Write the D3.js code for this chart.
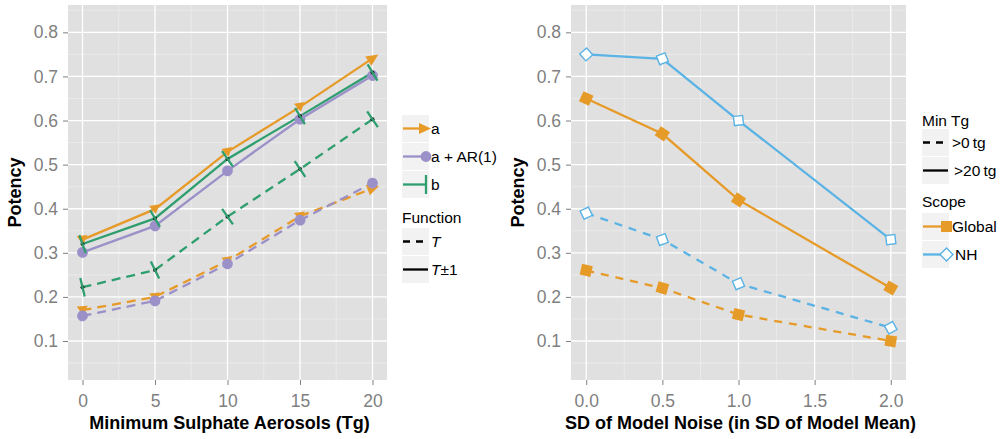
<!DOCTYPE html>
<html>
<head>
<meta charset="utf-8">
<script src="https://cdn.jsdelivr.net/npm/d3@7"></script>
<style>
body { margin: 0; background: #fff; }
text { font-family: "Liberation Sans", Arial, Helvetica, sans-serif; }
</style>
</head>
<body>
<svg id="chart" width="1008" height="439"></svg>
<script>
// ---- data ----
const tgLevels = [0, 5, 10, 15, 20];
const aT      = [0.170, 0.200, 0.282, 0.383, 0.446];
const aTpm    = [0.330, 0.399, 0.529, 0.631, 0.741];
const arT     = [0.157, 0.191, 0.275, 0.374, 0.458];
const arTpm   = [0.301, 0.361, 0.486, 0.603, 0.702];
const bT      = [0.222, 0.261, 0.382, 0.490, 0.603];
const bTpm    = [0.320, 0.378, 0.513, 0.610, 0.709];

const noiseSD    = [0, 0.5, 1, 2];
const globalGt0  = [0.26, 0.22, 0.16, 0.10];
const globalGt20 = [0.65, 0.57, 0.42, 0.22];
const nhGt0      = [0.39, 0.33, 0.23, 0.13];
const nhGt20     = [0.75, 0.74, 0.60, 0.33];

const yTicks = [0.1, 0.2, 0.3, 0.4, 0.5, 0.6, 0.7, 0.8];
const yMinor = [0.05, 0.15, 0.25, 0.35, 0.45, 0.55, 0.65, 0.75, 0.85];
const tgTicks = [0, 5, 10, 15, 20];
const tgMinor = [2.5, 7.5, 12.5, 17.5];
const noiseTicks = [0, 0.5, 1, 1.5, 2];
const noiseMinor = [0.25, 0.75, 1.25, 1.75];

const seriesNames = ['a', 'a + AR(1)', 'b'];
const minTgNames = ['>0\u2009tg', '>20\u2009tg'];
const scopeNames = ['Global', 'NH'];

// ---- look ----
const orange = '#e69a28', purple = '#9b90c8', green = '#2e9e6e', blue = '#5ab3e4';
const lineW = 2.3;
const panelTop = 5, panelBottom = 380;
const tickGrey = '#7f7f7f';

const svg = d3.select('#chart');

function makePanel(x0, x1, xDomain, xTicks, xMinor, xFmt, xTitle) {
  const x = d3.scaleLinear().domain(xDomain).range([x0, x1]);
  const y = d3.scaleLinear().domain([0.0116, 0.862]).range([panelBottom, panelTop]);
  const g = svg.append('g');

  g.append('rect')
    .attr('x', x0).attr('y', panelTop)
    .attr('width', x1 - x0).attr('height', panelBottom - panelTop)
    .attr('fill', '#e0e0e0');

  // minor grid
  g.selectAll('.minx').data(xMinor).enter().append('line')
    .attr('x1', d => x(d)).attr('x2', d => x(d))
    .attr('y1', panelTop).attr('y2', panelBottom)
    .attr('stroke', '#ececec').attr('stroke-width', 0.8);
  g.selectAll('.miny').data(yMinor).enter().append('line')
    .attr('y1', d => y(d)).attr('y2', d => y(d))
    .attr('x1', x0).attr('x2', x1)
    .attr('stroke', '#ececec').attr('stroke-width', 0.8);
  // major grid
  g.selectAll('.majx').data(xTicks).enter().append('line')
    .attr('x1', d => x(d)).attr('x2', d => x(d))
    .attr('y1', panelTop).attr('y2', panelBottom)
    .attr('stroke', '#fff').attr('stroke-width', 1.3);
  g.selectAll('.majy').data(yTicks).enter().append('line')
    .attr('y1', d => y(d)).attr('y2', d => y(d))
    .attr('x1', x0).attr('x2', x1)
    .attr('stroke', '#fff').attr('stroke-width', 1.3);

  // axes
  let yAxis = g.append('g')
    .attr('transform', 'translate(' + x0 + ',0)')
    .call(d3.axisLeft(y).tickValues(yTicks).tickSize(5).tickPadding(5).tickFormat(d3.format('.1f')));
  let xAxis = g.append('g')
    .attr('transform', 'translate(0,' + panelBottom + ')')
    .call(d3.axisBottom(x).tickValues(xTicks).tickSize(5).tickPadding(10).tickFormat(xFmt));
  [yAxis, xAxis].forEach(a => {
    a.select('.domain').remove();
    a.selectAll('line').attr('stroke', tickGrey);
    a.selectAll('text').attr('fill', tickGrey).style('font-size', '17.5px')
      .style('font-family', '"Liberation Sans", Arial, sans-serif');
  });

  g.append('text')
    .attr('x', (x0 + x1) / 2 + 2).attr('y', 428.5)
    .attr('text-anchor', 'middle')
    .style('font-size', '18px').style('font-weight', 'bold')
    .text(xTitle);
  g.append('text')
    .attr('transform', 'translate(' + (x0 - 47) + ',' + ((panelTop + panelBottom) / 2) + ') rotate(-90)')
    .attr('text-anchor', 'middle')
    .style('font-size', '18px').style('font-weight', 'bold')
    .text('Potency');
  return { x, y, g };
}

function drawMarker(g, px, py, ang, kind, color, isLast) {
  let m = g.append('g').attr('transform', 'translate(' + px + ',' + py + ') rotate(' + ang + ')');
  if (kind === 'tri') {
    if (isLast) m.append('path').attr('d', 'M7,0L-5,-5.5L-5,5.5Z').attr('fill', color);
    else m.append('path').attr('d', 'M-5.5,-4L5.5,-4L0,5Z').attr('fill', color)
      .attr('transform', 'rotate(' + (-ang * 0.7) + ')');
  } else if (kind === 'circle') {
    m.append('circle').attr('r', 5.4).attr('fill', color);
  } else if (kind === 'bar') {
    m.append('line').attr('x1', 0).attr('x2', 0).attr('y1', -9.5).attr('y2', 9.5)
      .attr('stroke', color).attr('stroke-width', lineW);
  } else if (kind === 'square') {
    m.append('rect').attr('x', -5.5).attr('y', -5.5).attr('width', 11).attr('height', 11).attr('fill', color);
  } else if (kind === 'diamond') {
    m.append('rect').attr('x', -4.6).attr('y', -4.6).attr('width', 9.2).attr('height', 9.2)
      .attr('transform', 'rotate(45)')
      .attr('fill', '#fff').attr('stroke', color).attr('stroke-width', 1.4);
  }
}

function drawSeries(p, list) {
  const line = d3.line().x(d => p.x(d[0])).y(d => p.y(d[1]));
  list.forEach(s => {
    const pts = s.xs.map((d, i) => [d, s.ys[i]]);
    p.g.append('path').attr('d', line(pts))
      .attr('fill', 'none').attr('stroke', s.color).attr('stroke-width', lineW)
      .attr('stroke-dasharray', s.dashed ? s.dash : null);
  });
  list.forEach(s => {
    const px = s.xs.map(d => p.x(d));
    const py = s.ys.map(d => p.y(d));
    px.forEach((vx, i) => {
      p.g.append('circle').attr('cx', vx).attr('cy', py[i]).attr('r', 2).attr('fill', '#111');
    });
    px.forEach((vx, i) => {
      const a = Math.max(i - 1, 0), b = Math.min(i + 1, px.length - 1);
      const ang = Math.atan2(py[b] - py[a], px[b] - px[a]) * 180 / Math.PI;
      drawMarker(p.g, vx, py[i], ang, s.marker, s.color, i === px.length - 1);
    });
  });
}

// ---- left panel ----
const left = makePanel(68, 387, [-1, 21], tgTicks, tgMinor, d3.format('d'), 'Minimum Sulphate Aerosols (Tg)');
drawSeries(left, [
  { xs: tgLevels, ys: aT,    color: orange, dashed: true,  dash: '9,6', marker: 'tri' },
  { xs: tgLevels, ys: aTpm,  color: orange, dashed: false, marker: 'tri' },
  { xs: tgLevels, ys: arT,   color: purple, dashed: true,  dash: '9,6', marker: 'circle' },
  { xs: tgLevels, ys: arTpm, color: purple, dashed: false, marker: 'circle' },
  { xs: tgLevels, ys: bT,    color: green,  dashed: true,  dash: '9,6', marker: 'bar' },
  { xs: tgLevels, ys: bTpm,  color: green,  dashed: false, marker: 'bar' }
]);

// ---- right panel ----
const right = makePanel(571, 906, [-0.1, 2.1], noiseTicks, noiseMinor, d3.format('.1f'), 'SD of Model Noise (in SD of Model Mean)');
drawSeries(right, [
  { xs: noiseSD, ys: globalGt0,  color: orange, dashed: true,  dash: '8,7', marker: 'square' },
  { xs: noiseSD, ys: globalGt20, color: orange, dashed: false, marker: 'square' },
  { xs: noiseSD, ys: nhGt0,      color: blue,   dashed: true,  dash: '8,7', marker: 'diamond' },
  { xs: noiseSD, ys: nhGt20,     color: blue,   dashed: false, marker: 'diamond' }
]);

// ---- legends ----
function legendKeys(x, yStart, n) {
  const keys = [];
  for (let i = 0; i < n; i++) {
    const ky = yStart + i * 28;
    svg.append('rect').attr('x', x).attr('y', ky).attr('width', 27).attr('height', 27).attr('fill', '#f2f2f2');
    keys.push(ky + 13.5);
  }
  return keys;
}
function legendLabel(x, y, txt) {
  return svg.append('text').attr('x', x).attr('y', y).attr('dy', '0.35em')
    .style('font-size', '15.5px').text(txt);
}
function legendTitle(x, y, txt) {
  svg.append('text').attr('x', x).attr('y', y).style('font-size', '15.5px').text(txt);
}

// left: colour legend
const colourKinds = ['tri', 'circle', 'bar'];
const colourCols = [orange, purple, green];
let ky = legendKeys(402, 115, 3);
seriesNames.forEach((name, i) => {
  svg.append('line').attr('x1', 403).attr('x2', 426).attr('y1', ky[i]).attr('y2', ky[i])
    .attr('stroke', colourCols[i]).attr('stroke-width', lineW);
  drawMarker(svg, i === 0 ? 424 : 426, ky[i], 0, colourKinds[i], colourCols[i], true);
  legendLabel(431, ky[i], name);
});

// left: linetype legend
legendTitle(402, 222.5, 'Function');
ky = legendKeys(402, 228, 2);
['dash', 'solid'].forEach((t, i) => {
  svg.append('line').attr('x1', 403).attr('x2', 428).attr('y1', ky[i]).attr('y2', ky[i])
    .attr('stroke', '#000').attr('stroke-width', lineW)
    .attr('stroke-dasharray', t === 'dash' ? '7,6' : null);
});
let lt = legendLabel(431, ky[0], '');
lt.append('tspan').style('font-style', 'italic').text('T');
lt = legendLabel(431, ky[1], '');
lt.append('tspan').style('font-style', 'italic').text('T');
lt.append('tspan').text('\u00b11');

// right: linetype legend
legendTitle(922, 125.5, 'Min Tg');
ky = legendKeys(922, 129, 2);
minTgNames.forEach((name, i) => {
  svg.append('line').attr('x1', 923).attr('x2', 948).attr('y1', ky[i]).attr('y2', ky[i])
    .attr('stroke', '#000').attr('stroke-width', lineW)
    .attr('stroke-dasharray', i === 0 ? '7,6' : null);
  legendLabel(i === 0 ? 952 : 954, ky[i], name);
});

// right: scope legend
legendTitle(922, 207, 'Scope');
ky = legendKeys(922, 213, 2);
const scopeCols = [orange, blue];
const scopeKinds = ['square', 'diamond'];
scopeNames.forEach((name, i) => {
  svg.append('line').attr('x1', 923).attr('x2', 946).attr('y1', ky[i]).attr('y2', ky[i])
    .attr('stroke', scopeCols[i]).attr('stroke-width', lineW);
  drawMarker(svg, 946.5, ky[i], 0, scopeKinds[i], scopeCols[i], true);
  legendLabel(i === 0 ? 952 : 955, ky[i], name);
});
</script>
</body>
</html>
